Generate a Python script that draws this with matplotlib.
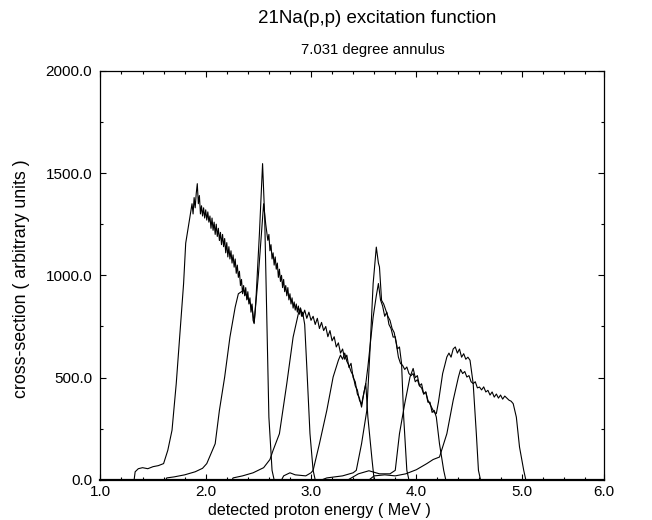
import numpy as np
import matplotlib
matplotlib.use("agg")
from matplotlib import pyplot as plt
from matplotlib.ticker import FixedLocator, FixedFormatter, MultipleLocator, FormatStrFormatter

plt.rcParams['font.family'] = ['Liberation Sans', 'DejaVu Sans']

# seven runs, detected energy (MeV) / counts
run_a_e = [1.32, 1.33, 1.36, 1.40, 1.45, 1.50, 1.55, 1.60, 1.64, 1.68, 1.72, 1.755, 1.79, 1.81,
           1.85, 1.87, 1.88, 1.89, 1.90, 1.91, 1.92, 1.93, 1.94, 1.95, 1.96, 1.97, 1.98, 1.99,
           2.00, 2.01, 2.02, 2.03, 2.04, 2.05, 2.06, 2.07, 2.08, 2.09, 2.10, 2.11, 2.12, 2.13,
           2.14, 2.15, 2.16, 2.17, 2.18, 2.19, 2.20, 2.21, 2.22, 2.23, 2.24, 2.25, 2.26, 2.27,
           2.28, 2.29, 2.30, 2.31, 2.32, 2.33, 2.34, 2.35, 2.36, 2.37, 2.38, 2.39, 2.40, 2.41,
           2.42, 2.43, 2.44, 2.45, 2.46, 2.47, 2.48, 2.51, 2.54, 2.56, 2.58, 2.60, 2.63, 2.65]
run_a_y = [0, 40, 55, 60, 55, 65, 70, 80, 145, 243, 470, 715, 960, 1157,
           1285, 1350, 1300, 1380, 1330, 1400, 1448, 1350, 1390, 1300, 1340, 1290, 1330, 1280,
           1320, 1270, 1310, 1260, 1290, 1230, 1280, 1220, 1260, 1200, 1250, 1190, 1230, 1170,
           1210, 1150, 1200, 1140, 1180, 1110, 1160, 1090, 1140, 1080, 1120, 1060, 1100, 1040,
           1080, 1010, 1050, 990, 1020, 950, 980, 910, 950, 900, 940, 880, 920, 860,
           890, 820, 860, 780, 764, 830, 910, 1204, 1546, 1285, 796, 307, 47, 0]

run_b_e = [1.62, 1.63, 1.70, 1.80, 1.90, 1.97, 2.01, 2.09, 2.13, 2.18, 2.23, 2.28, 2.31, 2.36,
           2.44, 2.46, 2.50, 2.55, 2.57, 2.59, 2.60, 2.61, 2.62, 2.63, 2.64, 2.65, 2.66, 2.67,
           2.68, 2.69, 2.70, 2.71, 2.72, 2.73, 2.74, 2.75, 2.76, 2.77, 2.78, 2.79, 2.80, 2.81,
           2.82, 2.83, 2.84, 2.85, 2.86, 2.87, 2.88, 2.89, 2.90, 2.91, 2.92, 2.93, 2.94, 2.96,
           2.99, 3.02, 3.04]
run_b_y = [0, 10, 15, 25, 40, 57, 80, 177, 340, 503, 698, 845, 910, 927,
           845, 770, 1000, 1350, 1250, 1171, 1200, 1120, 1150, 1080, 1110, 1050, 1090, 1030,
           1060, 990, 1030, 970, 1000, 940, 980, 920, 950, 900, 940, 880, 910, 860,
           890, 840, 870, 830, 860, 820, 850, 810, 840, 800, 820, 790, 760, 552,
           227, 47, 0]

run_c_e = [2.25, 2.26, 2.35, 2.45, 2.55, 2.61, 2.64, 2.70, 2.77, 2.83, 2.88, 2.90, 2.92, 2.94,
           2.96, 2.98, 3.00, 3.02, 3.04, 3.06, 3.08, 3.10, 3.12, 3.14, 3.16, 3.18, 3.20, 3.22,
           3.24, 3.26, 3.28, 3.30, 3.32, 3.34, 3.36, 3.38, 3.40, 3.42, 3.44, 3.46, 3.48, 3.50,
           3.52, 3.54, 3.58, 3.60]
run_c_y = [0, 10, 20, 35, 60, 100, 145, 226, 471, 698, 813, 840, 800, 830,
           790, 820, 780, 800, 760, 790, 740, 770, 730, 750, 700, 730, 680, 700,
           650, 670, 620, 640, 590, 610, 550, 570, 500, 480, 420, 400, 356, 420,
           471, 307, 96, 0]

run_d_e = [2.72, 2.74, 2.80, 2.85, 2.95, 3.00, 3.02, 3.08, 3.15, 3.21, 3.26, 3.28, 3.30, 3.32,
           3.34, 3.36, 3.38, 3.40, 3.42, 3.44, 3.46, 3.48, 3.50, 3.52, 3.54, 3.57, 3.59, 3.62,
           3.64, 3.66, 3.68, 3.70, 3.72, 3.74, 3.76, 3.78, 3.80, 3.82, 3.84, 3.86, 3.88, 3.91,
           3.93]
run_d_y = [0, 20, 35, 25, 20, 35, 47, 177, 340, 503, 585, 610, 590, 620,
           580, 560, 530, 510, 460, 440, 390, 370, 420, 470, 552, 700, 796, 900,
           960, 880, 850, 800, 820, 760, 740, 698, 700, 640, 650, 569, 307, 47,
           0]

run_e_e = [3.10, 3.15, 3.30, 3.40, 3.43, 3.48, 3.53, 3.56, 3.59, 3.62, 3.64, 3.65, 3.67, 3.69,
           3.71, 3.73, 3.75, 3.77, 3.79, 3.81, 3.83, 3.85, 3.87, 3.89, 3.91, 3.93, 3.95, 3.97,
           3.99, 4.01, 4.03, 4.05, 4.07, 4.09, 4.11, 4.13, 4.15, 4.17, 4.19, 4.22, 4.26, 4.28]
run_e_y = [0, 10, 20, 35, 47, 177, 340, 633, 960, 1138, 1060, 1041, 878, 860,
           830, 800, 780, 740, 720, 666, 600, 569, 560, 540, 552, 520, 510, 520,
           480, 490, 460, 450, 420, 430, 380, 380, 330, 340, 307, 177, 47, 0]

run_f_e = [3.35, 3.45, 3.55, 3.65, 3.75, 3.80, 3.84, 3.89, 3.94, 3.97, 3.99, 4.01, 4.03, 4.05,
           4.07, 4.09, 4.11, 4.13, 4.15, 4.17, 4.19, 4.21, 4.23, 4.25, 4.27, 4.29, 4.31, 4.33,
           4.35, 4.37, 4.39, 4.41, 4.43, 4.45, 4.47, 4.49, 4.51, 4.54, 4.57, 4.59, 4.61]
run_f_y = [0, 30, 45, 30, 30, 47, 226, 373, 503, 545, 500, 510, 460, 470,
           420, 430, 390, 370, 350, 330, 324, 380, 450, 520, 560, 601, 620, 600,
           640, 650, 620, 640, 600, 617, 590, 600, 585, 471, 226, 47, 0]

run_g_e = [3.55, 3.60, 3.70, 3.80, 3.90, 4.00, 4.10, 4.16, 4.22, 4.29, 4.35, 4.40, 4.42, 4.44,
           4.46, 4.48, 4.50, 4.52, 4.54, 4.56, 4.58, 4.60, 4.62, 4.64, 4.66, 4.68, 4.70, 4.72,
           4.74, 4.76, 4.78, 4.80, 4.82, 4.84, 4.86, 4.88, 4.90, 4.92, 4.95, 4.98, 5.02, 5.04]
run_g_y = [0, 20, 25, 20, 30, 50, 80, 100, 112, 226, 389, 503, 540, 520,
           530, 503, 510, 480, 471, 480, 450, 454, 440, 455, 430, 438, 415, 430,
           405, 420, 400, 415, 395, 410, 400, 390, 385, 373, 307, 161, 47, 0]

runs = [(run_a_e, run_a_y), (run_b_e, run_b_y), (run_c_e, run_c_y), (run_d_e, run_d_y),
        (run_e_e, run_e_y), (run_f_e, run_f_y), (run_g_e, run_g_y)]

x_major = [1.0, 2.0, 3.0, 4.0, 5.0]
x_labels = ["1.0", "2.0", "3.0", "4.0", "5.0", "6.0"]
x_end = 5.78

fig = plt.figure(figsize=(6.52, 5.2), dpi=100)
ax = fig.add_axes([0.154, 0.077, 0.772, 0.787])

for e, y in runs:
    ax.plot(e, y, color="black", lw=0.8)

ax.set_xlim(1.0, x_end)
ax.set_ylim(0, 2000)
ax.xaxis.set_major_locator(FixedLocator(x_major + [x_end]))
ax.xaxis.set_major_formatter(FixedFormatter(x_labels))
ax.xaxis.set_minor_locator(MultipleLocator(0.2))
ax.yaxis.set_major_locator(MultipleLocator(500))
ax.yaxis.set_minor_locator(MultipleLocator(250))
ax.yaxis.set_major_formatter(FormatStrFormatter("%.1f"))

ax.tick_params(which="both", direction="in", top=True, right=True, labelsize=11, width=0.8)
ax.tick_params(which="major", length=4.5)
ax.tick_params(which="minor", length=2.5)
ax.tick_params(axis="y", pad=6)
for s in ax.spines.values():
    s.set_linewidth(0.9)
ax.spines["bottom"].set_linewidth(1.6)

fig.text(0.578, 0.965, "21Na(p,p) excitation function", ha="center", va="center", fontsize=13.5)
fig.text(0.572, 0.904, "7.031 degree annulus", ha="center", va="center", fontsize=10.7)
fig.text(0.49, 0.019, "detected proton energy ( MeV )", ha="center", va="center", fontsize=11.6)
fig.text(0.033, 0.465, "cross-section ( arbitrary units )", ha="center", va="center",
         rotation=90, fontsize=12.8)

plt.savefig("out.png")
